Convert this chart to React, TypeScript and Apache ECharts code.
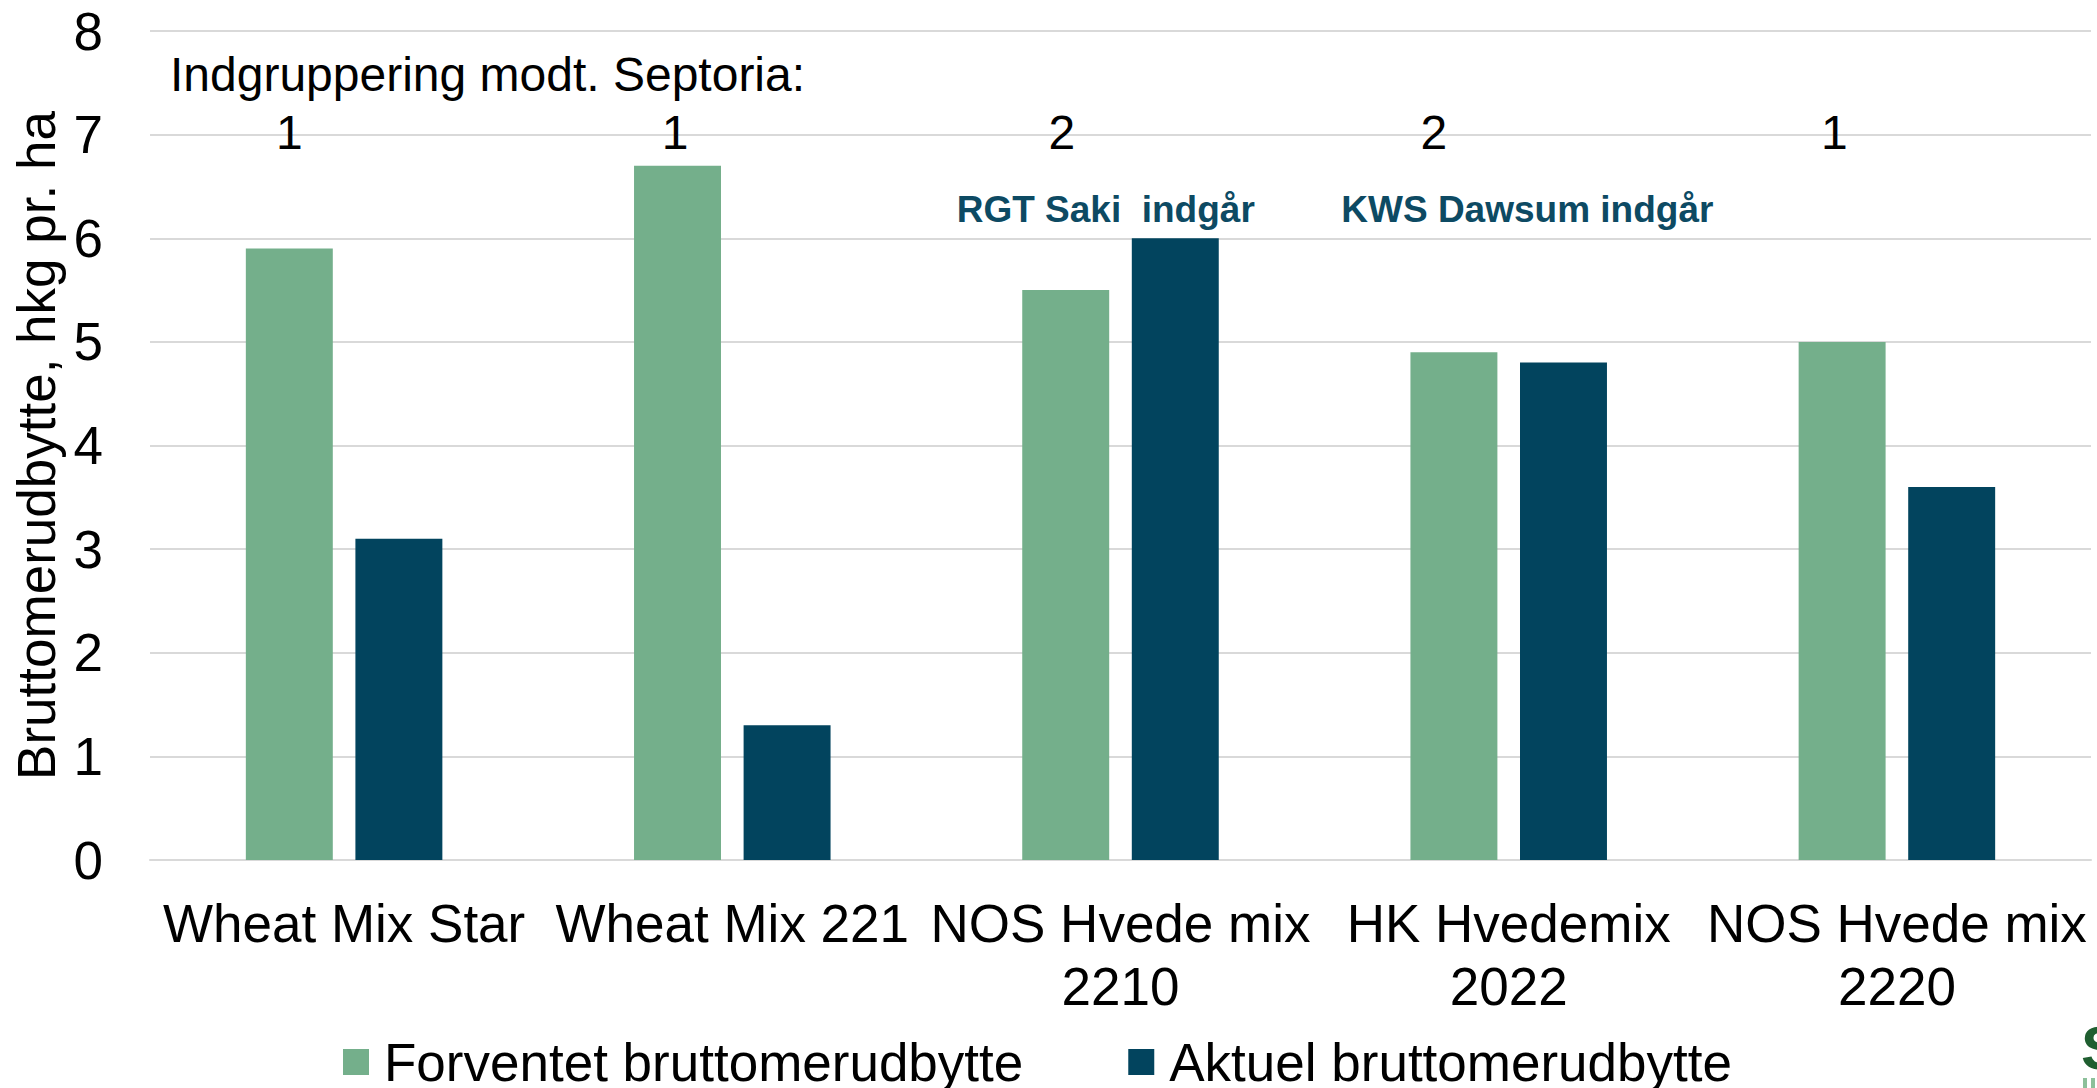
import React, { useEffect, useRef } from "react";
import * as echarts from "echarts";

// ---- data ----
const categories = [
  "Wheat Mix Star",
  "Wheat Mix 221",
  "NOS Hvede mix\n2210",
  "HK Hvedemix\n2022",
  "NOS Hvede mix\n2220",
];
const expectedYield = [5.9, 6.7, 5.5, 4.9, 5.0];
const actualYield = [3.1, 1.3, 6.0, 4.8, 3.6];
const septoriaGroups = ["1", "1", "2", "2", "1"];
const notes = ["", "", "RGT Saki  indgår", "KWS Dawsum indgår", ""];
const seriesNames = ["Forventet bruttomerudbytte", "Aktuel bruttomerudbytte"];
const yAxisTitle = "Bruttomerudbytte, hkg pr. ha";
const groupingTitle = "Indgruppering modt. Septoria:";

// ---- layout / style constants ----
const FONT = "Liberation Sans, Arial, sans-serif";
const GREEN = "#74AF8B";
const NAVY = "#02445E";
const NOTE_COLOR = "#0D4A63";
const BAR_FRAC = 0.224;
const GAP_FRAC = 0.26;
const GROUP_ROW_Y = 7.02;
const NOTE_ROW_Y = 6.28;
const GROUP_DX = [0, -0.006, -0.01, -0.052, -0.02];
const NOTE_DX = [0, 0, -0.038, 0.048, 0];

export default function App() {
  const ref = useRef<HTMLDivElement>(null);

  useEffect(() => {
    if (!ref.current) return;
    const chart = echarts.init(ref.current, undefined, { renderer: "svg" });

    const greenOffset = (band: number) => {
      const barW = band * BAR_FRAC;
      const gap = barW * GAP_FRAC;
      return -(barW + gap) / 2;
    };

    chart.setOption({
      animation: false,
      backgroundColor: "#ffffff",
      grid: { left: 150, right: 6, top: 31, bottom: 228, containLabel: false },
      legend: {
        data: seriesNames,
        left: 338,
        top: 1027,
        icon: "rect",
        itemWidth: 26,
        itemHeight: 26,
        itemGap: 105,
        textStyle: {
          fontFamily: FONT,
          fontSize: 53,
          color: "#000",
          lineHeight: 60,
          padding: [0, 0, 0, 10],
        },
        selectedMode: false,
      },
      xAxis: {
        type: "category",
        data: categories,
        axisLine: { show: true, lineStyle: { color: "#D9D9D9", width: 2 } },
        axisTick: { show: false },
        axisLabel: {
          interval: 0,
          fontFamily: FONT,
          fontSize: 53,
          lineHeight: 63,
          color: "#000",
          margin: 32,
        },
      },
      yAxis: {
        type: "value",
        min: 0,
        max: 8,
        interval: 1,
        name: yAxisTitle,
        nameLocation: "middle",
        nameGap: 86,
        nameTextStyle: { fontFamily: FONT, fontSize: 53, color: "#000" },
        axisLine: { show: false },
        axisTick: { show: false },
        axisLabel: { fontFamily: FONT, fontSize: 53, color: "#000", margin: 47 },
        splitLine: { lineStyle: { color: "#D9D9D9", width: 2 } },
      },
      series: [
        {
          name: seriesNames[0],
          type: "bar",
          data: expectedYield,
          barWidth: BAR_FRAC * 100 + "%",
          barGap: GAP_FRAC * 100 + "%",
          itemStyle: { color: GREEN },
        },
        {
          name: seriesNames[1],
          type: "bar",
          data: actualYield,
          barWidth: BAR_FRAC * 100 + "%",
          barGap: GAP_FRAC * 100 + "%",
          itemStyle: { color: NAVY },
        },
        {
          name: "groups",
          type: "custom",
          silent: true,
          encode: { x: 0, y: 1 },
          data: septoriaGroups.map((_, i) => [i, GROUP_ROW_Y]),
          renderItem: (params: any, api: any) => {
            const idx = api.value(0);
            const pt = api.coord([idx, api.value(1)]);
            const band = api.size([1, 0])[0];
            return {
              type: "text",
              x: pt[0] + greenOffset(band) + GROUP_DX[idx] * band,
              y: pt[1],
              style: {
                text: septoriaGroups[idx],
                fontFamily: FONT,
                fontSize: 48,
                fill: "#000",
                align: "center",
                verticalAlign: "middle",
              },
            };
          },
        },
        {
          name: "notes",
          type: "custom",
          silent: true,
          encode: { x: 0, y: 1 },
          data: notes.map((_, i) => [i, NOTE_ROW_Y]),
          renderItem: (params: any, api: any) => {
            const idx = api.value(0);
            if (!notes[idx]) return null;
            const pt = api.coord([idx, api.value(1)]);
            const band = api.size([1, 0])[0];
            return {
              type: "text",
              x: pt[0] + NOTE_DX[idx] * band,
              y: pt[1],
              style: {
                text: notes[idx],
                fontFamily: FONT,
                fontSize: 37,
                fontWeight: "bold",
                fill: NOTE_COLOR,
                align: "center",
                verticalAlign: "middle",
              },
            };
          },
        },
      ],
      graphic: [
        {
          type: "text",
          x: 170,
          y: 74,
          style: {
            text: groupingTitle,
            fontFamily: FONT,
            fontSize: 48,
            fill: "#000",
            align: "left",
            verticalAlign: "middle",
          },
        },
        {
          type: "text",
          x: 2081,
          y: 1047,
          style: {
            text: "S",
            fontFamily: FONT,
            fontSize: 62,
            fontWeight: "bold",
            fill: "#1F5E30",
            align: "left",
            verticalAlign: "middle",
          },
        },
        { type: "rect", shape: { x: 2083, y: 1078, width: 4, height: 10 }, style: { fill: "#8CC09A" } },
        { type: "rect", shape: { x: 2091, y: 1078, width: 4, height: 10 }, style: { fill: "#8CC09A" } },
      ],
    });

    return () => chart.dispose();
  }, []);

  return (
    <div
      ref={ref}
      style={{ position: "fixed", left: 0, top: 0, width: 2097, height: 1088, background: "#fff" }}
    />
  );
}
